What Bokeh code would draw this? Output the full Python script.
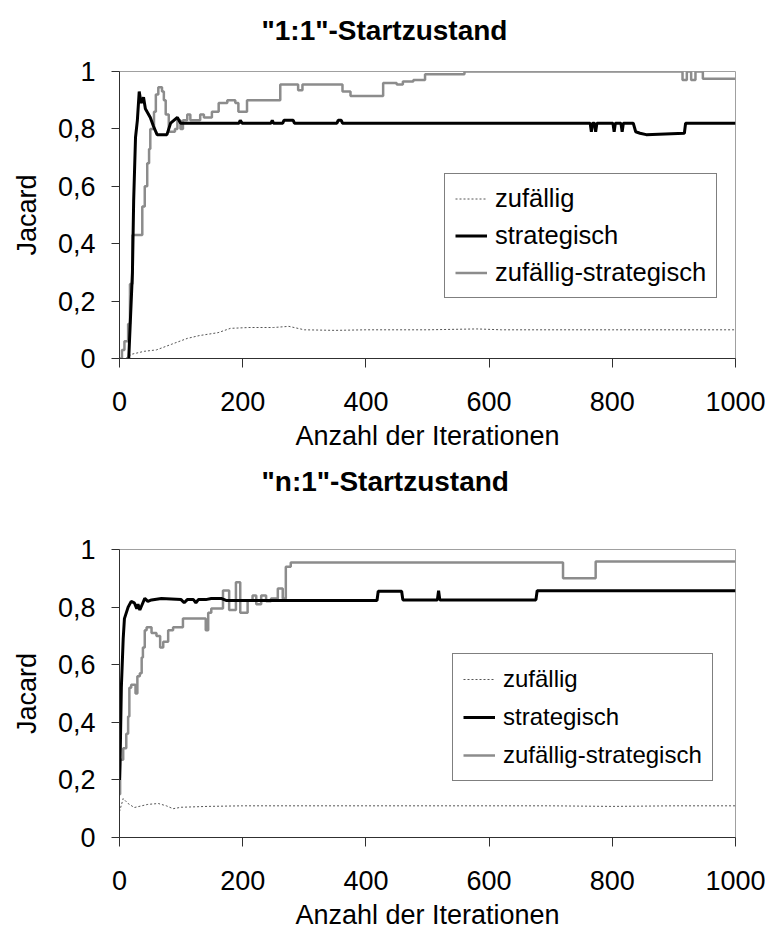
from bokeh.plotting import figure
from bokeh.models import Range1d, FixedTicker, Legend, LegendItem, Title
from bokeh.layouts import column
from bokeh.embed import file_html
from bokeh.resources import INLINE

FONT = "Liberation Sans"

# ---------------- data ----------------
X_TICKS = [0, 200, 400, 600, 800, 1000]
Y_TICKS = [0, 0.2, 0.4, 0.6, 0.8, 1]
Y_TICK_LABELS = ["0", "0,2", "0,4", "0,6", "0,8", "1"]
SERIES_NAMES = ["zufällig", "strategisch", "zufällig-strategisch"]
TITLES = ['"1:1"-Startzustand', '"n:1"-Startzustand']
X_LABEL = "Anzahl der Iterationen"
Y_LABEL = "Jacard"

# Chart 1: "1:1"
c1_rand_x = [10, 20, 40, 60, 85, 110, 130, 160, 180, 210, 250, 275, 300, 350, 400, 500, 580, 620, 700, 800, 900, 1000]
c1_rand_y = [0.0, 0.015, 0.025, 0.03, 0.05, 0.07, 0.08, 0.09, 0.105, 0.108, 0.108, 0.112, 0.10, 0.098, 0.1, 0.1, 0.103, 0.1, 0.1, 0.1, 0.1, 0.1]

c1_strat_x = [15, 19, 21, 23, 26, 29, 32, 35, 39, 42, 50, 55, 61, 77, 83, 94, 99, 194, 196, 199, 246, 248, 250,
              265, 267, 282, 284, 353, 355, 360, 362, 764, 766, 768, 771, 773, 775, 801, 803, 805, 814, 816, 818,
              834, 838, 845, 855, 917, 919, 1000]
c1_strat_y = [0.0, 0.2, 0.3, 0.55, 0.77, 0.83, 0.93, 0.89, 0.91, 0.87, 0.84, 0.81, 0.78, 0.78, 0.82, 0.84, 0.82, 0.82, 0.83, 0.82, 0.82, 0.83, 0.82,
              0.82, 0.83, 0.83, 0.82, 0.82, 0.83, 0.83, 0.82, 0.82, 0.79, 0.82, 0.82, 0.79, 0.82, 0.82, 0.79, 0.82, 0.82, 0.79, 0.82,
              0.82, 0.79, 0.785, 0.78, 0.785, 0.82, 0.82]

c1_mix_x = [0, 4, 8, 14, 17, 21, 37, 41, 45, 48, 50, 56, 59, 63, 69, 72, 75, 80, 90, 94, 99, 103, 110, 115, 127, 131, 137,
            150, 161, 175, 188, 193, 207, 261, 290, 297, 362, 375, 428, 450, 460, 477, 496, 560, 914, 921, 928, 935, 947, 1000]
c1_mix_y = [0.0, 0.03, 0.06, 0.12, 0.26, 0.43, 0.53, 0.6, 0.68, 0.73, 0.80, 0.86, 0.92, 0.945, 0.93, 0.90, 0.85, 0.79, 0.80, 0.83, 0.80, 0.83, 0.85, 0.83, 0.83, 0.85, 0.84,
            0.86, 0.89, 0.90, 0.89, 0.86, 0.90, 0.955, 0.935, 0.955, 0.93, 0.915, 0.96, 0.955, 0.965, 0.97, 0.99, 1.0, 0.97, 1.0, 0.97, 1.0, 0.975, 0.975]

# Chart 2: "n:1"
c2_rand_x = [0, 6, 14, 24, 46, 63, 76, 87, 100, 143, 200, 300, 400, 500, 600, 700, 800, 900, 1000]
c2_rand_y = [0.09, 0.135, 0.118, 0.104, 0.115, 0.118, 0.11, 0.10, 0.105, 0.108, 0.11, 0.11, 0.11, 0.11, 0.11, 0.11, 0.108, 0.11, 0.11]

c2_strat_x = [0, 1, 3, 6, 8, 14, 19, 24, 28, 30, 33, 38, 41, 46, 52, 68, 100, 105, 110, 120, 124, 128, 140, 149, 165, 173,
              418, 420, 458, 460, 516, 518, 520, 676, 678, 1000]
c2_strat_y = [0.2, 0.27, 0.52, 0.69, 0.76, 0.80, 0.82, 0.815, 0.795, 0.81, 0.79, 0.815, 0.83, 0.82, 0.825, 0.83, 0.826, 0.815, 0.826, 0.826, 0.815, 0.826, 0.826, 0.83, 0.83, 0.823,
              0.823, 0.855, 0.855, 0.825, 0.825, 0.857, 0.825, 0.825, 0.857, 0.857]

c2_mix_x = [0, 1, 6, 11, 14, 16, 19, 26, 29, 33, 36, 38, 41, 44, 52, 60, 66, 71, 79, 87, 103, 140, 144, 149, 168, 178,
            189, 196, 208, 216, 222, 230, 238, 246, 257, 265, 270, 278, 720, 773, 1000]
c2_mix_y = [0.15, 0.27, 0.31, 0.36, 0.42, 0.52, 0.53, 0.5, 0.56, 0.57, 0.625, 0.66, 0.72, 0.73, 0.71, 0.70, 0.66, 0.68, 0.72, 0.73, 0.76, 0.72, 0.78, 0.795, 0.858, 0.79,
            0.886, 0.78, 0.823, 0.84, 0.81, 0.84, 0.82, 0.83, 0.865, 0.83, 0.94, 0.955, 0.90, 0.958, 0.958]

FIG_W = 765
FRAME_W = 617


def make_chart(title, height, b_left, b_top, b_bottom, title_gap, title_offset,
               rand, strat, mix, legend_loc, legend_font, legend_label_h):
    p = figure(width=FIG_W, height=height, output_backend="svg", toolbar_location=None,
               x_range=Range1d(0, 1000), y_range=Range1d(0, 1),
               min_border_left=b_left, min_border_right=FIG_W - b_left - FRAME_W,
               min_border_top=b_top, min_border_bottom=b_bottom)
    p.xgrid.visible = False
    p.ygrid.visible = False
    p.outline_line_color = "#a0a0a0"
    p.outline_line_width = 1
    p.background_fill_color = "white"
    p.border_fill_color = "white"

    # real title (outermost) + an invisible spacer between it and the frame
    p.title.text = title
    p.title.align = "left"
    p.title.offset = title_offset
    p.title.standoff = 0
    p.title.text_font = FONT
    p.title.text_font_size = "28px"
    p.title.text_font_style = "bold"
    p.title.text_color = "black"
    p.add_layout(Title(text=" ", text_font_size="1px", standoff=title_gap), "above")

    xa = p.xaxis[0]
    ya = p.yaxis[0]
    xa.ticker = FixedTicker(ticks=X_TICKS)
    ya.ticker = FixedTicker(ticks=Y_TICKS)
    ya.major_label_overrides = dict(zip(Y_TICKS, Y_TICK_LABELS))
    for ax in (xa, ya):
        ax.axis_line_color = "#303030"
        ax.axis_line_width = 1
        ax.major_tick_line_color = "#303030"
        ax.minor_tick_line_color = None
        ax.major_tick_in = 0
        ax.major_label_text_font = FONT
        ax.major_label_text_font_size = "27px"
        ax.major_label_text_color = "black"
        ax.axis_label_text_font = FONT
        ax.axis_label_text_font_size = "27px"
        ax.axis_label_text_font_style = "normal"
        ax.axis_label_text_color = "black"
    xa.major_tick_out = 9
    xa.major_label_standoff = 24
    xa.axis_label = X_LABEL
    xa.axis_label_standoff = 7
    ya.major_tick_out = 8
    ya.major_label_standoff = 16
    ya.axis_label = Y_LABEL
    ya.axis_label_standoff = 13

    r_rand = p.line(rand[0], rand[1], line_color="#555555", line_width=1, line_dash="2 2")
    r_mix = p.step(mix[0], mix[1], mode="after", line_color="#8c8c8c", line_width=2.5)
    r_strat = p.line(strat[0], strat[1], line_color="black", line_width=3)

    legend = Legend(items=[LegendItem(label=SERIES_NAMES[0], renderers=[r_rand]),
                           LegendItem(label=SERIES_NAMES[1], renderers=[r_strat]),
                           LegendItem(label=SERIES_NAMES[2], renderers=[r_mix])],
                    location=legend_loc, margin=0, padding=10, spacing=8,
                    label_height=legend_label_h, glyph_height=legend_label_h, glyph_width=32, label_standoff=8,
                    border_line_color="black", border_line_width=1,
                    background_fill_color="white", background_fill_alpha=1.0,
                    label_text_font=FONT, label_text_font_size=legend_font,
                    label_text_color="black")
    p.add_layout(legend)
    return p


# chart 1: frame x 119..736, y 71..358 ; chart 2: frame x 118..735, y 549..837
p1 = make_chart(TITLES[0], 454, 119, 71, 96, 23, 142,
                (c1_rand_x, c1_rand_y), (c1_strat_x, c1_strat_y), (c1_mix_x, c1_mix_y),
                (325, 60), "25.5px", 29)
p2 = make_chart(TITLES[1], 480, 118, 95, 97, 50, 142,
                (c2_rand_x, c2_rand_y), (c2_strat_x, c2_strat_y), (c2_mix_x, c2_mix_y),
                (333, 56), "24px", 30)

layout = column(p1, p2, spacing=0)
open("out.html", "w").write(file_html(layout, INLINE))
